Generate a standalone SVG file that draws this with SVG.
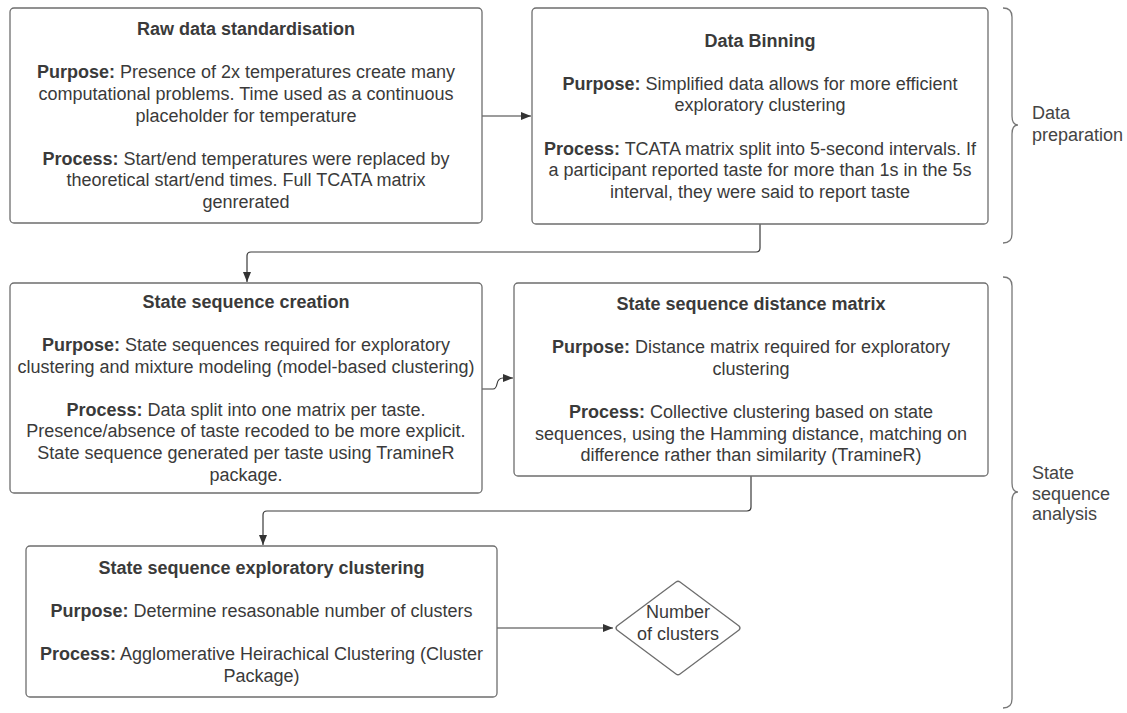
<svg xmlns="http://www.w3.org/2000/svg" width="1127" height="713" viewBox="0 0 1127 713">
<style>
.box{fill:#fff;stroke:#6e6e6e;stroke-width:1.3}
.t{font-family:"Liberation Sans",Arial,sans-serif;font-size:18px;fill:#3a3a3a;text-anchor:middle}
.b{font-weight:bold}
.lbl{font-family:"Liberation Sans",Arial,sans-serif;font-size:18px;fill:#444}
.conn{fill:none;stroke:#3a3a3a;stroke-width:1.2}
.brace{fill:none;stroke:#777;stroke-width:1.3}
</style>
<defs>
<marker id="ah" viewBox="0 0 10 10" refX="10" refY="5" markerWidth="10" markerHeight="10" markerUnits="userSpaceOnUse" orient="auto">
<path d="M0 1 L10 5 L0 9 Z" fill="#333"/>
</marker>
</defs>
<rect width="1127" height="713" fill="#fff"/>

<g id="connectors">
<path class="conn" d="M482 116 H531" marker-end="url(#ah)"/>
<path class="conn" d="M760 224 V248 Q760 252 756 252 H251 Q247 252 247 256 V282" marker-end="url(#ah)"/>
<path class="conn" d="M482 389 H493 Q496 389 497 384 Q498 378 503 378 H513" marker-end="url(#ah)"/>
<path class="conn" d="M751 476 V507 Q751 511 747 511 H267 Q263 511 263 515 V545" marker-end="url(#ah)"/>
<path class="conn" d="M497 628 H613" marker-end="url(#ah)"/>
</g>

<g id="raw-data-standardisation">
<rect class="box" x="10" y="8" width="472" height="215" rx="4"/>
<text class="t b" x="246" y="35">Raw data standardisation</text>
<text class="t" x="246" y="78"><tspan class="b">Purpose:</tspan> Presence of 2x temperatures create many</text>
<text class="t" x="246" y="100">computational problems. Time used as a continuous</text>
<text class="t" x="246" y="121.5">placeholder for temperature</text>
<text class="t" x="246" y="165"><tspan class="b">Process:</tspan> Start/end temperatures were replaced by</text>
<text class="t" x="246" y="186">theoretical start/end times. Full TCATA matrix</text>
<text class="t" x="246" y="208">genrerated</text>
</g>

<g id="data-binning">
<rect class="box" x="532" y="8" width="456" height="216" rx="4"/>
<text class="t b" x="760" y="46.5">Data Binning</text>
<text class="t" x="760" y="89.5"><tspan class="b">Purpose:</tspan> Simplified data allows for more efficient</text>
<text class="t" x="760" y="111">exploratory clustering</text>
<text class="t" x="760" y="154.5"><tspan class="b">Process:</tspan> TCATA matrix split into 5-second intervals. If</text>
<text class="t" x="760" y="176">a participant reported taste for more than 1s in the 5s</text>
<text class="t" x="760" y="197.5">interval, they were said to report taste</text>
</g>

<g id="state-sequence-creation">
<rect class="box" x="10" y="283" width="472" height="210" rx="4"/>
<text class="t b" x="246" y="307.5">State sequence creation</text>
<text class="t" x="246" y="351"><tspan class="b">Purpose:</tspan> State sequences required for exploratory</text>
<text class="t" x="246" y="372.5">clustering and mixture modeling (model-based clustering)</text>
<text class="t" x="246" y="415.5"><tspan class="b">Process:</tspan> Data split into one matrix per taste.</text>
<text class="t" x="246" y="437">Presence/absence of taste recoded to be more explicit.</text>
<text class="t" x="246" y="459">State sequence generated per taste using TramineR</text>
<text class="t" x="246" y="480.5">package.</text>
</g>

<g id="state-sequence-distance-matrix">
<rect class="box" x="514" y="283" width="474" height="193" rx="4"/>
<text class="t b" x="751" y="310">State sequence distance matrix</text>
<text class="t" x="751" y="353"><tspan class="b">Purpose:</tspan> Distance matrix required for exploratory</text>
<text class="t" x="751" y="375">clustering</text>
<text class="t" x="751" y="418"><tspan class="b">Process:</tspan> Collective clustering based on state</text>
<text class="t" x="751" y="439.5">sequences, using the Hamming distance, matching on</text>
<text class="t" x="751" y="461">difference rather than similarity (TramineR)</text>
</g>

<g id="state-sequence-exploratory-clustering">
<rect class="box" x="26" y="546" width="471" height="151" rx="4"/>
<text class="t b" x="261.5" y="573.5">State sequence exploratory clustering</text>
<text class="t" x="261.5" y="617"><tspan class="b">Purpose:</tspan> Determine resasonable number of clusters</text>
<text class="t" x="261.5" y="660"><tspan class="b">Process:</tspan> Agglomerative Heirachical Clustering (Cluster</text>
<text class="t" x="261.5" y="681.5">Package)</text>
</g>

<g id="number-of-clusters">
<path class="box" d="M676 582 Q678 580.5 680 582 L739 626 Q741 628 739 630 L680 674 Q678 675.5 676 674 L617 630 Q615 628 617 626 Z"/>
<text class="t" x="678" y="618">Number</text>
<text class="t" x="678" y="639.5">of clusters</text>
</g>

<g id="data-preparation">
<path class="brace" d="M1003 8 Q1012 8 1012 17 V116 Q1012 125 1018 125 Q1012 125 1012 134 V234 Q1012 243 1003 243"/>
<text class="lbl" x="1032" y="119">Data</text>
<text class="lbl" x="1032" y="141">preparation</text>
</g>

<g id="state-sequence-analysis">
<path class="brace" d="M1003 277 Q1012 277 1012 286 V483 Q1012 492 1018 492 Q1012 492 1012 501 V699 Q1012 708 1003 708"/>
<text class="lbl" x="1032" y="479">State</text>
<text class="lbl" x="1032" y="499.5">sequence</text>
<text class="lbl" x="1032" y="520">analysis</text>
</g>
</svg>
